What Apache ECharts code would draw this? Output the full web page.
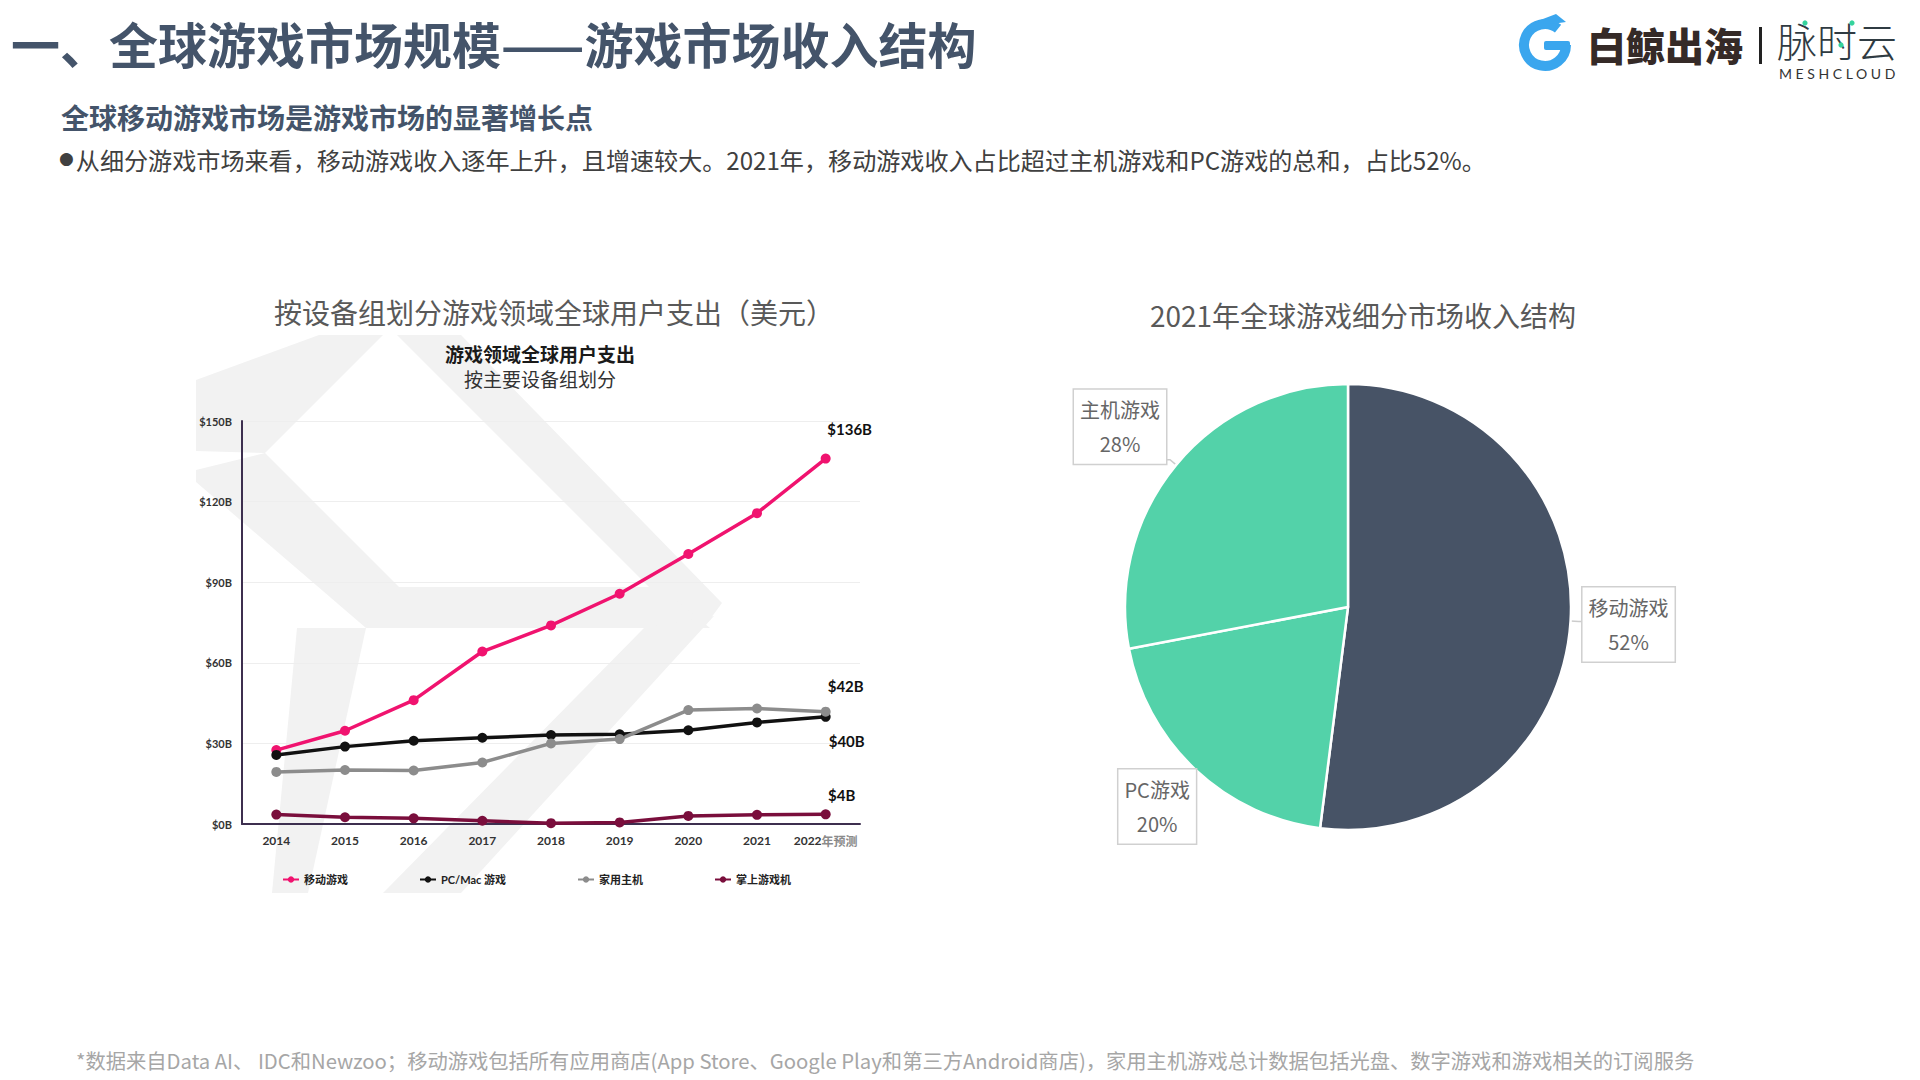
<!DOCTYPE html>
<html>
<head>
<meta charset="utf-8">
<script src="https://cdn.jsdelivr.net/npm/echarts@6/dist/echarts.min.js"></script>
<style>
  html, body { margin: 0; padding: 0; background: #fff; }
  #main { width: 1920px; height: 1080px; }
</style>
</head>
<body>
<div id="main"></div>
<script>
// ---------- data ----------
const years = ['2014', '2015', '2016', '2017', '2018', '2019', '2020', '2021', '2022年预测'];
const seriesNames = ['移动游戏', 'PC/Mac 游戏', '家用主机', '掌上游戏机'];
const mobileGames = [27.5, 34.7, 46.1, 64.2, 73.9, 85.7, 100.5, 115.7, 136];
const pcMacGames = [25.7, 28.8, 31.0, 32.1, 33.1, 33.4, 34.9, 37.8, 39.9];
const homeConsoles = [19.4, 20.1, 19.9, 22.9, 30.0, 31.6, 42.4, 43.0, 41.8];
const handhelds = [3.5, 2.5, 2.1, 1.2, 0.3, 0.6, 3.0, 3.4, 3.6];
const yTicks = { min: 0, max: 150, interval: 30 };

const pieNames = ['移动游戏', 'PC游戏', '主机游戏'];
const pieValues = [52, 20, 28];

// ---------- styles ----------
const CJK = '"Noto Sans CJK SC"';
const LAT = 'Lato, "Noto Sans CJK SC"';
const lineColors = ['#f0136f', '#111111', '#8c8c8c', '#7a0e3c'];
const endLabelOffsets = [[24, -30], [21, 24], [20, -26], [16, -19]];
const pieColors = ['#475366', '#53d2a9', '#53d2a9'];

const chart = echarts.init(document.getElementById('main'), null, { renderer: 'svg' });

function txt(text, x, y, font, fill, align, rich) {
  const st = { text: text, x: x, y: y, font: font, fill: fill, textAlign: align || 'left', textVerticalAlign: 'middle' };
  if (rich) st.rich = rich;
  return { type: 'text', z: 10, style: st };
}
function poly(points) {
  return { type: 'polygon', z: -10, shape: { points: points }, style: { fill: '#f2f2f2' }, silent: true };
}

const graphics = [
  // watermark behind the line chart
  poly([[319, 335], [383, 335], [265, 453], [196, 451], [196, 380]]),
  poly([[265, 453], [400, 588], [366, 628], [196, 482], [196, 470]]),
  poly([[397, 335], [461, 335], [722, 603], [705, 626], [649, 587]]),
  poly([[380, 587], [660, 587], [710, 628], [366, 628]]),
  poly([[644, 628], [714, 616], [461, 893], [383, 893]]),
  poly([[297, 628], [366, 628], [308, 893], [272, 893]]),

  // header
  txt('一、全球游戏市场规模——游戏市场收入结构', 11, 42, 'bold 49px ' + CJK, '#44546a'),
  txt('全球移动游戏市场是游戏市场的显著增长点', 61, 117, 'bold 28px ' + CJK, '#44546a'),
  txt('{d|●}从细分游戏市场来看，移动游戏收入逐年上升，且增速较大。2021年，移动游戏收入占比超过主机游戏和PC游戏的总和，占比52%。',
      59, 159, '24.1px ' + CJK, '#404040', 'left',
      { d: { fontSize: 17, fontFamily: 'DejaVu Sans', fill: '#404040', padding: [0, 2, 2, 0] } }),
  // footer
  txt('*数据来自Data AI、 IDC和Newzoo；移动游戏包括所有应用商店(App Store、Google Play和第三方Android商店)，家用主机游戏总计数据包括光盘、数字游戏和游戏相关的订阅服务',
      76, 1060, '20.3px ' + CJK, '#a6a6a6'),

  // chart titles
  txt('按设备组划分游戏领域全球用户支出（美元）', 554, 312, '28px ' + CJK, '#595959', 'center'),
  txt('游戏领域全球用户支出', 540, 353, 'bold 19px ' + CJK, '#1a1a1a', 'center'),
  txt('按主要设备组划分', 540, 378, '19px ' + CJK, '#333333', 'center'),
  txt('2021年全球游戏细分市场收入结构', 1363, 315, '28px ' + CJK, '#595959', 'center'),

  // logo
  { type: 'arc', z: 10, shape: { cx: 1545, cy: 45, r: 21, startAngle: 0, endAngle: -0.9, clockwise: true },
    style: { stroke: '#3aa6ee', lineWidth: 10, fill: null } },
  { type: 'rect', z: 10, shape: { x: 1544, y: 41, width: 26, height: 9, r: 2 }, style: { fill: '#3aa6ee' } },
  { type: 'polygon', z: 10, shape: { points: [[1535, 22], [1556, 14], [1566, 22], [1552, 24]] }, style: { fill: '#3aa6ee' } },
  txt('白鲸出海', 1587, 44, '900 39px ' + CJK, '#352a27'),
  { type: 'rect', z: 10, shape: { x: 1759, y: 27, width: 3, height: 37 }, style: { fill: '#222' } },
  txt('脉时云', 1777, 40, '300 40px ' + CJK, '#2f3b42'),
  { type: 'circle', z: 11, shape: { cx: 1805, cy: 23, r: 2.6 }, style: { fill: '#34d39c' } },
  { type: 'circle', z: 11, shape: { cx: 1852, cy: 23, r: 2.6 }, style: { fill: '#34d39c' } },
  { type: 'circle', z: 11, shape: { cx: 1841, cy: 45, r: 2.6 }, style: { fill: '#34d39c' } },
  txt('M E S H C L O U D', 1779, 73, '14px Lato', '#333')
];

const seriesData = [mobileGames, pcMacGames, homeConsoles, handhelds];
const lineSeries = seriesData.map(function (arr, i) {
  return {
    name: seriesNames[i],
    type: 'line',
    data: arr,
    symbol: 'circle',
    symbolSize: 10,
    lineStyle: { width: 3.5, color: lineColors[i] },
    itemStyle: { color: lineColors[i] },
    label: {
      show: true,
      position: 'inside',
      offset: endLabelOffsets[i],
      color: '#111',
      fontFamily: LAT,
      fontWeight: 'bold',
      fontSize: 15,
      formatter: function (p) {
        return p.dataIndex === arr.length - 1 ? '$' + Math.round(p.value) + 'B' : '';
      }
    }
  };
});

const pieText = { align: 'center', color: '#666', fontSize: 20, lineHeight: 34, fontFamily: CJK };

const option = {
  animation: false,
  backgroundColor: '#fff',
  graphic: graphics,
  legend: {
    left: 277, top: 869,
    itemGap: 71, itemWidth: 16, itemHeight: 8,
    data: seriesNames,
    textStyle: { fontSize: 11, fontWeight: 'bold', color: '#222', fontFamily: LAT }
  },
  grid: { left: 242, top: 421, width: 618, height: 403 },
  xAxis: {
    type: 'category', data: years, boundaryGap: true,
    axisLine: { lineStyle: { color: '#3d2f4f', width: 2 } },
    axisTick: { show: false },
    axisLabel: {
      interval: 0,
      margin: 10, color: '#333', fontSize: 12, fontWeight: 'bold', fontFamily: LAT,
      formatter: function (v) {
        const m = v.match(/^(\d+)(.*)$/);
        return m && m[2] ? '{a|' + m[1] + '}{b|' + m[2] + '}' : v;
      },
      rich: {
        a: { color: '#333', fontSize: 12, fontWeight: 'bold', fontFamily: LAT },
        b: { color: '#8a8a8a', fontSize: 12, fontFamily: CJK }
      }
    }
  },
  yAxis: {
    type: 'value', min: yTicks.min, max: yTicks.max, interval: yTicks.interval,
    axisLine: { show: true, lineStyle: { color: '#3d2f4f', width: 2 } },
    axisTick: { show: false },
    splitLine: { lineStyle: { color: '#eeeeee', width: 1 } },
    axisLabel: {
      margin: 10, color: '#333', fontSize: 11, fontWeight: 'bold', fontFamily: LAT,
      formatter: function (v) { return '$' + v + 'B'; }
    }
  },
  series: lineSeries.concat([{
    type: 'pie',
    center: [1348, 607],
    radius: 223,
    startAngle: 90,
    clockwise: true,
    itemStyle: { borderColor: '#fff', borderWidth: 2.5 },
    label: {
      show: true,
      position: 'outside',
      formatter: '{t|{b}}\n{t|{c}%}',
      rich: { t: pieText },
      color: '#666',
      fontSize: 20,
      lineHeight: 34,
      fontFamily: CJK,
      backgroundColor: '#fff',
      borderColor: '#d0d0d0',
      borderWidth: 1.5,
      padding: [3, 6, 3, 6],
      distanceToLabelLine: 0
    },
    labelLine: { show: true, length: 8, length2: 4, lineStyle: { color: '#cccccc', width: 1.5 } },
    labelLayout: function (p) {
      if (p.dataIndex === 0) return { dy: 3 };
      if (p.dataIndex === 1) return { verticalAlign: 'top', dx: 10, dy: -6 };
      if (p.dataIndex === 2) return { verticalAlign: 'bottom', dy: 4 };
      return {};
    },
    data: pieNames.map(function (n, i) {
      return { name: n, value: pieValues[i], itemStyle: { color: pieColors[i] } };
    })
  }])
};

chart.setOption(option);
</script>
</body>
</html>
